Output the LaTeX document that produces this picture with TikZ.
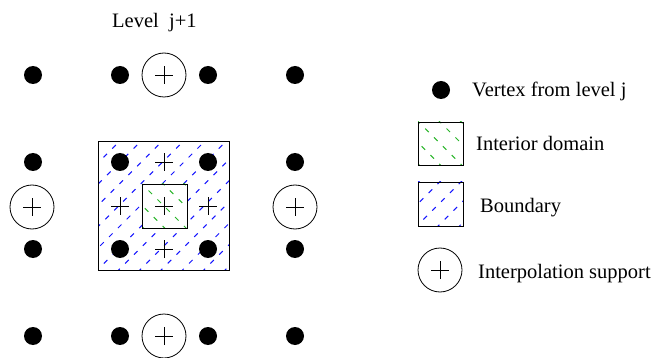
\documentclass[tikz,border=0pt]{standalone}
\usepackage{fontspec}
\setmainfont{Liberation Serif}
\definecolor{hblue}{RGB}{20,20,255}
\definecolor{hgreen}{RGB}{40,180,40}
\begin{document}
\begin{tikzpicture}[x=1pt,y=-1pt,
  plusmark/.style={path picture={\draw[line width=0.7pt]
      ([xshift=-9pt]path picture bounding box.center) -- ([xshift=9pt]path picture bounding box.center)
      ([yshift=-9pt]path picture bounding box.center) -- ([yshift=9pt]path picture bounding box.center);}},
  dot/.style={circle,fill=black,inner sep=0pt,minimum size=18pt},
  ipol/.style={circle,draw,line width=0.8pt,inner sep=0pt,minimum size=44pt,plusmark},
  pls/.style={rectangle,inner sep=0pt,minimum size=19pt,plusmark},
  lbl/.style={anchor=base west,inner sep=0pt,font=\fontsize{20.5}{24}\selectfont},
  box/.style={draw,line width=0.8pt},
  hb/.style={hblue,line width=1pt,dash pattern=on 5pt off 7.5pt,dash phase=1.6pt},
  hg/.style={hgreen,line width=1pt,dash pattern=on 5pt off 7.5pt,dash phase=1.6pt}]
\useasboundingbox (0,0) rectangle (661,358);

% title
\node[lbl] (title) at (112,28) {Level~~j+1};

% hatching of boundary region
\begin{scope}[even odd rule]
  \clip (98,141) rectangle (229,270) (142,184) rectangle (187,228);
  \foreach \k in {-8,...,8} \draw[hb] ({87.3+21.3*\k},280) -- ++(150,-150);
\end{scope}
\begin{scope}
  \clip (142,184) rectangle (187,228);
  \foreach \k in {-4,...,4} \draw[hg] ({132+21.3*\k},174) -- ++(70,70);
\end{scope}
\draw[box] (98,141) rectangle (229,270);
\draw[box] (142,184) rectangle (187,228);

% vertices of level j
\node[dot] (d11) at (33,75) {};
\node[dot] (d12) at (120,75) {};
\node[dot] (d13) at (208,75) {};
\node[dot] (d14) at (295,75) {};
\node[dot] (d21) at (33,162) {};
\node[dot] (d22) at (120,162) {};
\node[dot] (d23) at (208,162) {};
\node[dot] (d24) at (295,162) {};
\node[dot] (d31) at (33,249) {};
\node[dot] (d32) at (120,249) {};
\node[dot] (d33) at (208,249) {};
\node[dot] (d34) at (295,249) {};
\node[dot] (d41) at (33,336) {};
\node[dot] (d42) at (120,336) {};
\node[dot] (d43) at (208,336) {};
\node[dot] (d44) at (295,336) {};

% interpolation supports
\node[ipol] (ctop) at (164,75) {};
\node[ipol] (cbot) at (164,336) {};
\node[ipol] (cleft) at (32,207) {};
\node[ipol] (cright) at (295,207) {};

% new points
\node[pls] (p1) at (164,162) {};
\node[pls] (p2) at (120,206) {};
\node[pls] (p3) at (164,206) {};
\node[pls] (p4) at (208,206) {};
\node[pls] (p5) at (164,249) {};

% legend
\node[dot] (ldot) at (441,90) {};
\node[lbl] (tdot) at (472,97) {Vertex from level j};

\begin{scope}
  \clip (418,122) rectangle (463,165);
  \foreach \k in {-4,...,4} \draw[hg] ({408.7+21.3*\k},112) -- ++(70,70);
\end{scope}
\draw[box] (418,122) rectangle (463,165);
\node[lbl] (tint) at (476,151) {Interior domain};

\begin{scope}
  \clip (418,182) rectangle (463,226);
  \foreach \k in {-4,...,4} \draw[hb] ({385.6+21.3*\k},236) -- ++(70,-70);
\end{scope}
\draw[box] (418,182) rectangle (463,226);
\node[lbl] (tbnd) at (480,212) {Boundary};

\node[ipol] (lcirc) at (440,270) {};
\node[lbl] (tipol) at (478,278) {Interpolation support};
\end{tikzpicture}
\end{document}
